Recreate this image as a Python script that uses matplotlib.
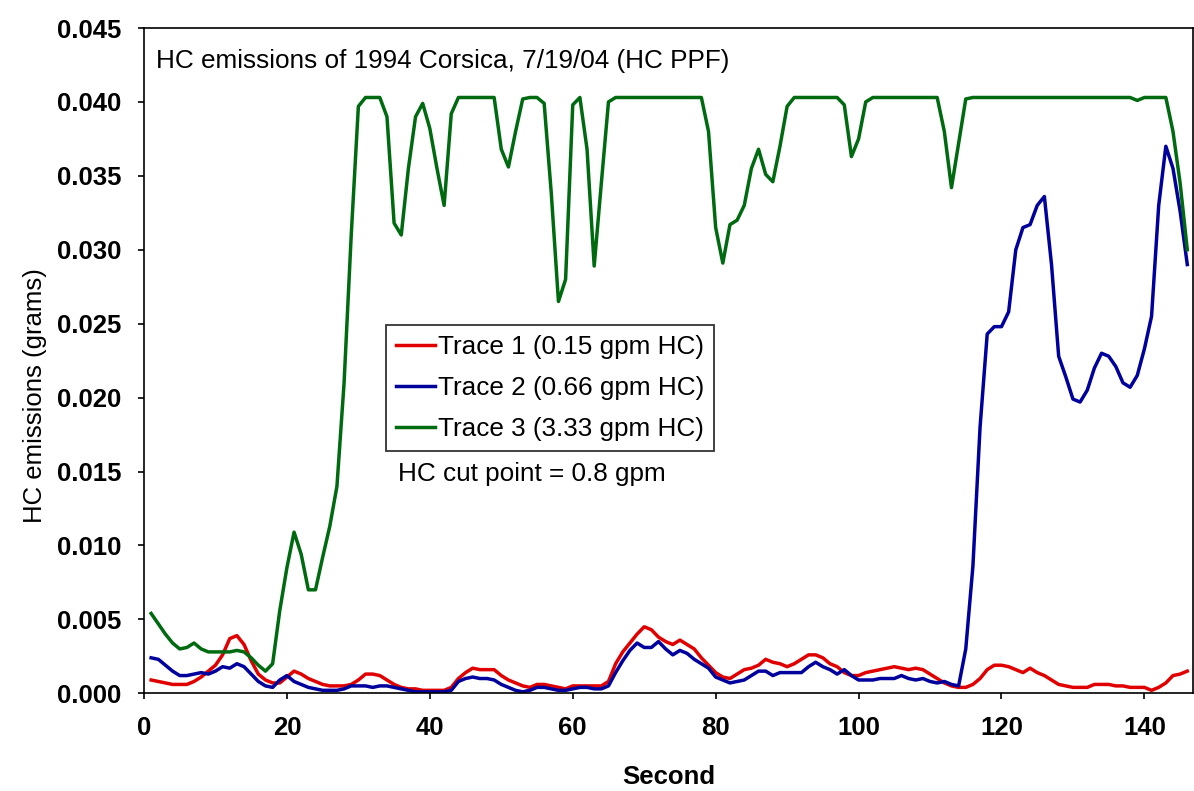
import matplotlib
matplotlib.use("Agg")
import matplotlib.pyplot as plt

plt.rcParams['font.family'] = ['Liberation Sans', 'DejaVu Sans']

# seconds 1..146
seconds = list(range(1, 147))

# Trace 1 (0.15 gpm HC)
trace1 = [
    0.0009, 0.0008, 0.0007, 0.0006, 0.0006, 0.0006, 0.0008, 0.0011, 0.0015, 0.0019,
    0.0026, 0.0037, 0.0039, 0.0033, 0.0022, 0.0013, 0.0009, 0.0007, 0.0007, 0.0011,
    0.0015, 0.0013, 0.0010, 0.0008, 0.0006, 0.0005, 0.0005, 0.0005, 0.0006, 0.0009,
    0.0013, 0.0013, 0.0012, 0.0009, 0.0006, 0.0004, 0.0003, 0.0003, 0.0002, 0.0002,
    0.0002, 0.0002, 0.0004, 0.0010, 0.0014, 0.0017, 0.0016, 0.0016, 0.0016, 0.0012,
    0.0009, 0.0007, 0.0005, 0.0004, 0.0006, 0.0006, 0.0005, 0.0004, 0.0003, 0.0005,
    0.0005, 0.0005, 0.0005, 0.0005, 0.0008, 0.0020, 0.0028, 0.0034, 0.0040, 0.0045,
    0.0043, 0.0038, 0.0035, 0.0033, 0.0036, 0.0033, 0.0030, 0.0024, 0.0019, 0.0014,
    0.0011, 0.0010, 0.0013, 0.0016, 0.0017, 0.0019, 0.0023, 0.0021, 0.0020, 0.0018,
    0.0020, 0.0023, 0.0026, 0.0026, 0.0024, 0.0020, 0.0018, 0.0014, 0.0012, 0.0012,
    0.0014, 0.0015, 0.0016, 0.0017, 0.0018, 0.0017, 0.0016, 0.0017, 0.0016, 0.0013,
    0.0010, 0.0007, 0.0005, 0.0004, 0.0004, 0.0006, 0.0010, 0.0016, 0.0019, 0.0019,
    0.0018, 0.0016, 0.0014, 0.0017, 0.0014, 0.0012, 0.0009, 0.0006, 0.0005, 0.0004,
    0.0004, 0.0004, 0.0006, 0.0006, 0.0006, 0.0005, 0.0005, 0.0004, 0.0004, 0.0004,
    0.0002, 0.0004, 0.0007, 0.0012, 0.0013, 0.0015,
]

# Trace 2 (0.66 gpm HC)
trace2 = [
    0.0024, 0.0023, 0.0019, 0.0015, 0.0012, 0.0012, 0.0013, 0.0014, 0.0013, 0.0015,
    0.0018, 0.0017, 0.0020, 0.0018, 0.0013, 0.0008, 0.0005, 0.0004, 0.0009, 0.0012,
    0.0008, 0.0006, 0.0004, 0.0003, 0.0002, 0.0002, 0.0002, 0.0003, 0.0005, 0.0005,
    0.0005, 0.0004, 0.0005, 0.0005, 0.0004, 0.0003, 0.0002, 0.0001, 0.0001, 0.0001,
    0.0001, 0.0001, 0.0002, 0.0008, 0.0010, 0.0011, 0.0010, 0.0010, 0.0009, 0.0006,
    0.0004, 0.0002, 0.0001, 0.0002, 0.0004, 0.0004, 0.0003, 0.0002, 0.0002, 0.0003,
    0.0004, 0.0004, 0.0003, 0.0003, 0.0005, 0.0014, 0.0022, 0.0029, 0.0034, 0.0031,
    0.0031, 0.0035, 0.0030, 0.0026, 0.0029, 0.0027, 0.0023, 0.0020, 0.0017, 0.0011,
    0.0009, 0.0007, 0.0008, 0.0009, 0.0012, 0.0015, 0.0015, 0.0012, 0.0014, 0.0014,
    0.0014, 0.0014, 0.0018, 0.0021, 0.0018, 0.0016, 0.0013, 0.0016, 0.0012, 0.0009,
    0.0009, 0.0009, 0.0010, 0.0010, 0.0010, 0.0012, 0.0010, 0.0009, 0.0010, 0.0008,
    0.0007, 0.0008, 0.0006, 0.0005, 0.0030, 0.0086, 0.0180, 0.0243, 0.0248, 0.0248,
    0.0258, 0.0300, 0.0315, 0.0317, 0.0330, 0.0336, 0.0290, 0.0228, 0.0214, 0.0199,
    0.0197, 0.0205, 0.0220, 0.0230, 0.0228, 0.0221, 0.0210, 0.0207, 0.0215, 0.0233,
    0.0255, 0.0330, 0.0370, 0.0355, 0.0326, 0.0290,
]

# Trace 3 (3.33 gpm HC)
trace3 = [
    0.0054, 0.0047, 0.0040, 0.0034, 0.0030, 0.0031, 0.0034, 0.0030, 0.0028, 0.0028,
    0.0028, 0.0028, 0.0029, 0.0028, 0.0024, 0.0019, 0.0015, 0.0020, 0.0056, 0.0085,
    0.0109, 0.0094, 0.0070, 0.0070, 0.0092, 0.0113, 0.0140, 0.0210, 0.0310, 0.0397,
    0.0403, 0.0403, 0.0403, 0.0390, 0.0318, 0.0310, 0.0355, 0.0390, 0.0399, 0.0382,
    0.0355, 0.0330, 0.0392, 0.0403, 0.0403, 0.0403, 0.0403, 0.0403, 0.0403, 0.0368,
    0.0356, 0.0380, 0.0402, 0.0403, 0.0403, 0.0399, 0.0338, 0.0265, 0.0280, 0.0398,
    0.0403, 0.0368, 0.0289, 0.0345, 0.0400, 0.0403, 0.0403, 0.0403, 0.0403, 0.0403,
    0.0403, 0.0403, 0.0403, 0.0403, 0.0403, 0.0403, 0.0403, 0.0403, 0.0380, 0.0315,
    0.0291, 0.0317, 0.0320, 0.0330, 0.0355, 0.0368, 0.0351, 0.0346, 0.0370, 0.0397,
    0.0403, 0.0403, 0.0403, 0.0403, 0.0403, 0.0403, 0.0403, 0.0398, 0.0363, 0.0375,
    0.0400, 0.0403, 0.0403, 0.0403, 0.0403, 0.0403, 0.0403, 0.0403, 0.0403, 0.0403,
    0.0403, 0.0380, 0.0342, 0.0372, 0.0402, 0.0403, 0.0403, 0.0403, 0.0403, 0.0403,
    0.0403, 0.0403, 0.0403, 0.0403, 0.0403, 0.0403, 0.0403, 0.0403, 0.0403, 0.0403,
    0.0403, 0.0403, 0.0403, 0.0403, 0.0403, 0.0403, 0.0403, 0.0403, 0.0401, 0.0403,
    0.0403, 0.0403, 0.0403, 0.0380, 0.0345, 0.0300,
]

labels = ['Trace 1 (0.15 gpm HC)', 'Trace 2 (0.66 gpm HC)', 'Trace 3 (3.33 gpm HC)']
colors = ['#e00000', '#00009c', '#006a10']

x_ticks = [0, 20, 40, 60, 80, 100, 120, 140]
y_ticks = [0.000, 0.005, 0.010, 0.015, 0.020, 0.025, 0.030, 0.035, 0.040, 0.045]

fig = plt.figure(figsize=(11.94, 7.91), dpi=100)
ax = fig.add_axes([144 / 1194, 1 - 693.3 / 791, (1193 - 144) / 1194, (693.3 - 28) / 791])

for vals, lab, col in zip([trace1, trace2, trace3], labels, colors):
    ax.plot(seconds, vals, color=col, linewidth=2.5, label=lab)

ax.set_xlim(0, 146.8)
ax.set_ylim(0, 0.045)
ax.set_xticks(x_ticks)
ax.set_yticks(y_ticks)
ax.set_yticklabels(['%.3f' % v for v in y_ticks])
ax.tick_params(direction='out', length=4.5, width=1.2, labelsize=18.5, pad=12)
for lbl in ax.get_xticklabels() + ax.get_yticklabels():
    lbl.set_fontweight('bold')
for sp in ax.spines.values():
    sp.set_linewidth(1.2)

ax.set_xlabel('Second', fontsize=18.5, fontweight='bold', labelpad=18)
ax.set_ylabel('HC emissions (grams)', fontsize=18.5)
ax.yaxis.set_label_coords(-0.092, 0.447)

ax.text(0.011, 0.95, 'HC emissions of 1994 Corsica, 7/19/04 (HC PPF)',
        transform=ax.transAxes, fontsize=18.8, va='center', ha='left')

leg = ax.legend(loc='upper left', bbox_to_anchor=(0.2304, 0.5536), borderaxespad=0,
                fontsize=18.8, frameon=True, fancybox=False, handlelength=1.5,
                handletextpad=0.12, labelspacing=0.66, borderpad=0.38)
leg.get_frame().set_edgecolor('black')
leg.get_frame().set_linewidth(1.3)

ax.text(0.242, 0.330, 'HC cut point = 0.8 gpm', transform=ax.transAxes,
        fontsize=18.8, va='center', ha='left')

fig.savefig('out.png', dpi=100)
